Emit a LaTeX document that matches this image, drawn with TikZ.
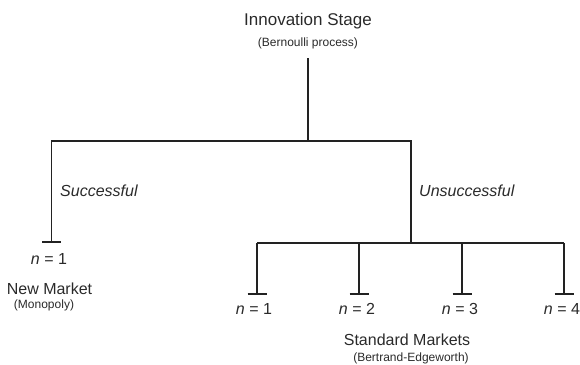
\documentclass[tikz,border=0pt]{standalone}
\usepackage{fontspec}
\setmainfont{Liberation Sans}
\definecolor{ink}{HTML}{222222}
\definecolor{txt}{HTML}{2A2A2A}
\begin{document}
\begin{tikzpicture}[x=1pt,y=-1pt,
  line/.style={draw=ink,line width=1.5pt},
  tbar/.style={draw=ink,line width=1.7pt},
  big/.style={inner sep=0pt,anchor=base,text=txt,font=\fontsize{17}{20}\selectfont},
  mid/.style={inner sep=0pt,anchor=base,text=txt,font=\fontsize{16}{19}\selectfont},
  small/.style={inner sep=0pt,anchor=base,text=txt,font=\fontsize{12}{14}\selectfont},
  lab/.style={inner sep=0pt,anchor=base west,text=txt,font=\fontsize{16}{19}\selectfont\itshape}]
\useasboundingbox (0,0) rectangle (580,364);
% titles
\node[big] (top) at (308,25.5) {Innovation Stage};
\node[small] (bern) at (308,46.5) {(Bernoulli process)};
% junction coordinates
\coordinate (stem) at (308,58);
\coordinate (j0) at (308,141);
\coordinate (jl) at (51.5,141);
\coordinate (jr) at (411,141);
\coordinate (el) at (51.5,242);
\coordinate (jr2) at (411,243);
\coordinate (b1) at (257,243);
\coordinate (b2) at (359,243);
\coordinate (b3) at (462,243);
\coordinate (b4) at (564,243);
\coordinate (e1) at (257,294);
\coordinate (e2) at (359,294);
\coordinate (e3) at (462,294);
\coordinate (e4) at (564,294);
% tree lines
\draw[line] (stem) -- (j0);
\draw[line] (el) -- (jl) -- (jr) -- (jr2);
\draw[line] (b1) -- (b4);
\foreach \i in {1,2,3,4} {
  \draw[line] (b\i) -- (e\i);
  \draw[tbar] ([xshift=-9.5pt]e\i) -- ([xshift=9.5pt]e\i);
}
\draw[tbar] ([xshift=-9.5pt]el) -- ([xshift=9.5pt]el);
% branch labels
\node[lab] (succ) at (60,196) {Successful};
\node[lab] (unsucc) at (419,196) {Unsuccessful};
% left leaf
\node[mid] (nl) at (49,264) {\textit{n} = 1};
\node[mid] (newm) at (49.5,294) {New Market};
\node[small] (mono) at (44,308) {(Monopoly)};
% right leaves
\node[mid] (n1) at (254,314.7) {\textit{n} = 1};
\node[mid] (n2) at (357,314.7) {\textit{n} = 2};
\node[mid] (n3) at (460,314.7) {\textit{n} = 3};
\node[mid] (n4) at (562,314.7) {\textit{n} = 4};
\node[mid] (std) at (407,345) {Standard Markets};
\node[small] (be) at (411,361) {(Bertrand-Edgeworth)};
\end{tikzpicture}
\end{document}
